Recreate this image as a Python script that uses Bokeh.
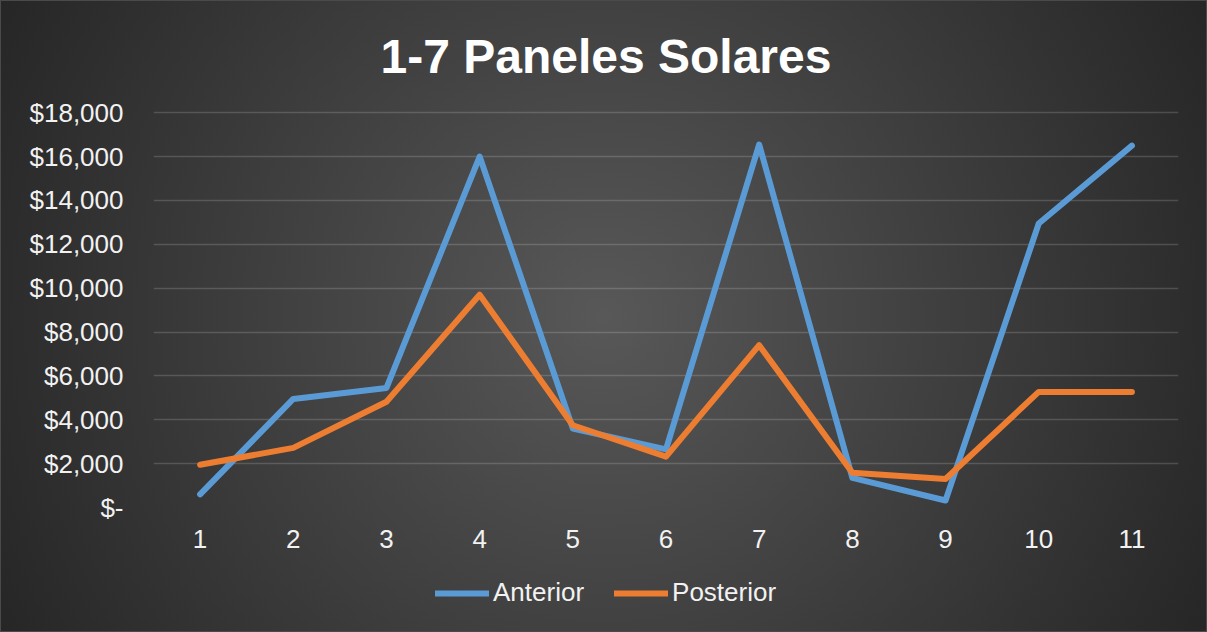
from bokeh.plotting import figure
from bokeh.layouts import column
from bokeh.models import Range1d, FixedTicker, Legend, LegendItem, Title
from bokeh.embed import file_html
from bokeh.resources import INLINE

periods = [1, 2, 3, 4, 5, 6, 7, 8, 9, 10, 11]
anterior = [600, 4950, 5450, 16000, 3600, 2650, 16550, 1350, 320, 12950, 16500]
posterior = [1950, 2720, 4820, 9700, 3750, 2320, 7400, 1580, 1300, 5270, 5270]
y_ticks = [0, 2000, 4000, 6000, 8000, 10000, 12000, 14000, 16000, 18000]
y_tick_labels = ["$-", "$2,000", "$4,000", "$6,000", "$8,000", "$10,000",
                 "$12,000", "$14,000", "$16,000", "$18,000"]
series_names = ["Anterior", "Posterior"]
title_text = "1-7 Paneles Solares"

FONT = "Liberation Sans"
TEXT = "#f2f2f2"
BLUE = "#5B9BD5"
ORANGE = "#ED7D31"
colors = [BLUE, ORANGE]
series = [anterior, posterior]

# ---- main chart ----
p = figure(width=1207, height=560, output_backend="svg", toolbar_location=None,
           x_range=Range1d(0.5, 11.5), y_range=Range1d(0, 18100),
           min_border_left=153, min_border_right=29, min_border_top=108,
           min_border_bottom=53)
p.background_fill_alpha = 0
p.border_fill_alpha = 0
p.outline_line_color = None

p.title = Title(text=title_text, align="left", text_font=FONT, text_font_size="48px",
                text_font_style="bold", text_color="#ffffff", standoff=55, offset=227)

p.xaxis.ticker = FixedTicker(ticks=periods)
p.yaxis.ticker = FixedTicker(ticks=y_ticks)
p.yaxis.major_label_overrides = {v: s for v, s in zip(y_ticks, y_tick_labels)}
for ax in (p.xaxis, p.yaxis):
    ax.axis_line_color = None
    ax.major_tick_line_color = None
    ax.minor_tick_line_color = None
    ax.major_tick_out = 0
    ax.major_tick_in = 0
    ax.major_label_text_font = FONT
    ax.major_label_text_font_size = "26px"
    ax.major_label_text_color = TEXT
p.yaxis.major_label_standoff = 30
p.xaxis.major_label_standoff = 22

p.xgrid.grid_line_color = None
p.ygrid.grid_line_color = "#ffffff"
p.ygrid.grid_line_alpha = 0.16
p.ygrid.grid_line_width = 1.5

for ys, c in zip(series, colors):
    p.line(periods, ys, line_color=c, line_width=6,
           line_join="round", line_cap="round")

# ---- legend strip (same series, drawn outside its visible range) ----
p2 = figure(width=1207, height=72, output_backend="svg", toolbar_location=None,
            x_range=Range1d(100, 101), y_range=Range1d(100000, 100001),
            min_border=0, min_border_left=0, min_border_right=0,
            min_border_top=0, min_border_bottom=0)
p2.axis.visible = False
p2.grid.visible = False
p2.background_fill_alpha = 0
p2.border_fill_alpha = 0
p2.outline_line_color = None
items = []
for name, ys, c in zip(series_names, series, colors):
    r = p2.line(periods, ys, line_color=c, line_width=6,
                line_join="round", line_cap="round")
    items.append(LegendItem(label=name, renderers=[r]))

legend = Legend(items=items, orientation="horizontal", location=(282, 24),
                label_text_font=FONT, label_text_font_size="26px",
                label_text_color=TEXT, glyph_width=54, glyph_height=30,
                label_standoff=4, spacing=30, padding=0, margin=0,
                background_fill_alpha=0, border_line_color=None)
p2.add_layout(legend, "center")

layout = column(p, p2, spacing=0)
layout.styles = {
    "background": "radial-gradient(circle farthest-corner at 50% 50%, #585858 0%, #262626 100%)",
    "box-shadow": "inset 0 0 0 1px #4a4a4a",
}

open("out.html", "w").write(file_html(layout, INLINE))
